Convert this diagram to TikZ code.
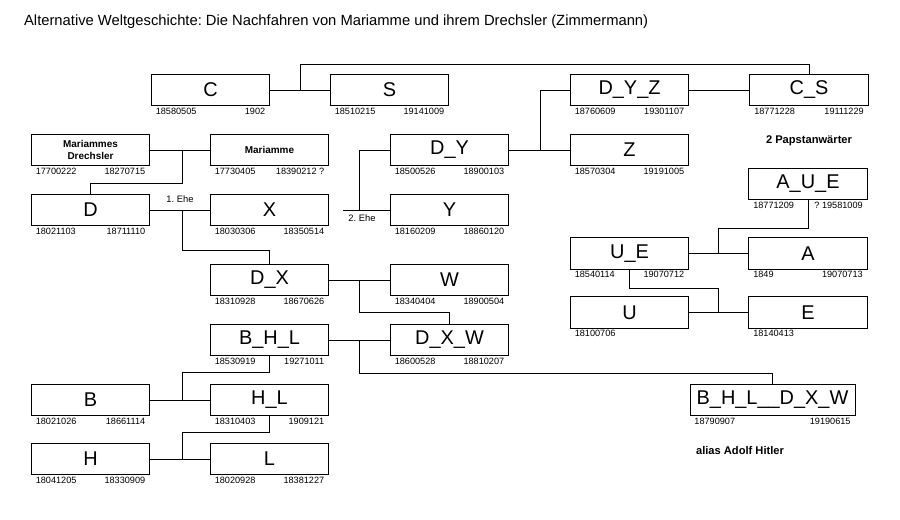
\documentclass[tikz,border=0pt]{standalone}
\usepackage{fontspec}
\setmainfont{Liberation Sans}
\usepackage{tikz}
\frenchspacing

% dates below a box: birth left, death right
\newcommand{\lebens}[3]{%
  \node[date,anchor=north west] (#1a) at ([xshift=3pt]#1.south west) {#2};
  \node[date,anchor=north east] (#1b) at ([xshift=-3pt]#1.south east) {#3};}

\begin{document}
\begin{tikzpicture}[
            x = 0.03cm, y = -0.03cm, % pixel grid of the scan
            box/.style = {draw, thick, minimum width=3.55cm, minimum height=0.95cm,
                          inner sep=0pt, font=\fontsize{17}{17}\selectfont, anchor=center},
            small/.style = {box, font=\bfseries\fontsize{8.5}{10.5}\selectfont, align=center},
            date/.style = {font=\fontsize{7.8}{8.5}\selectfont, inner sep=1pt},
            line/.style = {thick}
        ]
\useasboundingbox (0,0) rectangle (900,519);
\node[anchor=west, font=\fontsize{12.6}{14}\selectfont] (title) at (20,22)
  {Alternative Weltgeschichte: Die Nachfahren von Mariamme und ihrem Drechsler (Zimmermann)};

\node[box] (C) at (210.5,90) {C};
\node[box] (S) at (389.5,90) {S};
\node[small] (MD) at (90.5,150) {Mariammes\\Drechsler};
\node[small] (M) at (269.5,150) {Mariamme};
\node[box] (D) at (90.5,210) {D};
\node[box] (X) at (269.5,210) {X};
\node[box] (DY) at (449.5,150) {D\_Y};
\node[box] (Y) at (449.5,210) {Y};
\node[box] (DYZ) at (629.5,90) {D\_Y\_Z};
\node[box] (CS) at (809,90) {C\_S};
\node[box] (Z) at (629.5,150) {Z};
\node[box] (AUE) at (808,184) {A\_U\_E};
\node[box] (UE) at (629.5,253.5) {U\_E};
\node[box] (A) at (808,253.5) {A};
\node[box] (U) at (629.5,312.5) {U};
\node[box] (E) at (808,312.5) {E};
\node[box] (DX) at (269.5,280) {D\_X};
\node[box] (W) at (449.5,280) {W};
\node[box] (BHL) at (269.5,340) {B\_H\_L};
\node[box] (DXW) at (449.5,340) {D\_X\_W};
\node[box] (B) at (90.5,400) {B};
\node[box] (HL) at (269.5,400) {H\_L};
\node[box] (H) at (90.5,459) {H};
\node[box] (L) at (269.5,459) {L};
\node[box, minimum width=4.95cm] (Hitler) at (772.5,400) {B\_H\_L\_\_D\_X\_W};

\lebens{C}{18580505}{1902\hspace{1.05cm}}
\lebens{S}{18510215}{19141009}
\lebens{MD}{17700222}{18270715}
\lebens{M}{17730405}{18390212 ?}
\lebens{D}{18021103}{18711110}
\lebens{X}{18030306}{18350514}
\lebens{DY}{18500526}{18900103}
\lebens{Y}{18160209}{18860120}
\lebens{DYZ}{18760609}{19301107}
\lebens{CS}{18771228}{19111229}
\lebens{Z}{18570304}{19191005}
\lebens{AUE}{18771209}{? 19581009}
\lebens{UE}{18540114}{19070712}
\lebens{A}{1849}{19070713}
\lebens{U}{18100706}{}
\lebens{E}{18140413}{}
\lebens{DX}{18310928}{18670626}
\lebens{W}{18340404}{18900504}
\lebens{BHL}{18530919}{19271011}
\lebens{DXW}{18600528}{18810207}
\lebens{B}{18021026}{18661114}
\lebens{HL}{18310403}{1909121}
\lebens{H}{18041205}{18330909}
\lebens{L}{18020928}{18381227}
\lebens{Hitler}{18790907}{19190615\hspace{0.45cm}}

\node[font=\bfseries\fontsize{9.5}{11}\selectfont] (papst) at (809,141) {2 Papstanw\"arter};
\node[font=\bfseries\fontsize{9.5}{11}\selectfont] (alias) at (740,451) {alias Adolf Hitler};
\node[date, font=\fontsize{8}{9}\selectfont] (ehe1) at (180,199) {1. Ehe};
\node[date, font=\fontsize{8}{9}\selectfont] (ehe2) at (362,218) {2. Ehe};

% junction points
\coordinate (jCS) at (300,64);
\coordinate (jM) at (182,183);
\coordinate (jD) at (182,250);
\coordinate (jDY) at (359,150);
\coordinate (jY) at (343,210);
\coordinate (jZ) at (540,90);
\coordinate (jA) at (718,228);
\coordinate (jE) at (718,288);
\coordinate (jW) at (359,312);
\coordinate (jB) at (359,373);
\coordinate (jBH) at (182,372);
\coordinate (jHL) at (182,432);

\draw[line] (C) -- (S);
\draw[line] (jCS |- C.east) -- (jCS) -| (CS.north);
\draw[line] (MD) -- (M);
\draw[line] (jM |- M.west) -- (jM) -| (D.north);
\draw[line] (D) -- (X);
\draw[line] (jD |- D.east) -- (jD) -| (DX.north);
\draw[line] (DY.west) -- (jDY) -- (jDY |- Y.west);
\draw[line] (jY) -- (Y.west);
\draw[line] (DY) -- (Z);
\draw[line] (jZ |- Z.west) |- (DYZ.west);
\draw[line] (DYZ) -- (CS);
\draw[line] (AUE.south) -- (AUE.south |- jA) -- (jA) -- (jA |- A.west);
\draw[line] (UE) -- (A);
\draw[line] (UE.south) -- (UE.south |- jE) -- (jE) -- (jE |- E.west);
\draw[line] (U) -- (E);
\draw[line] (DX) -- (W);
\draw[line] (jW |- W.west) -- (jW) -| (DXW.north);
\draw[line] (BHL) -- (DXW);
\draw[line] (jB |- DXW.west) -- (jB) -| (Hitler.north);
\draw[line] (BHL.south) |- (jBH) -- (jBH |- B.east);
\draw[line] (B) -- (HL);
\draw[line] (HL.south) |- (jHL) -- (jHL |- H.east);
\draw[line] (H) -- (L);
\end{tikzpicture}
\end{document}
